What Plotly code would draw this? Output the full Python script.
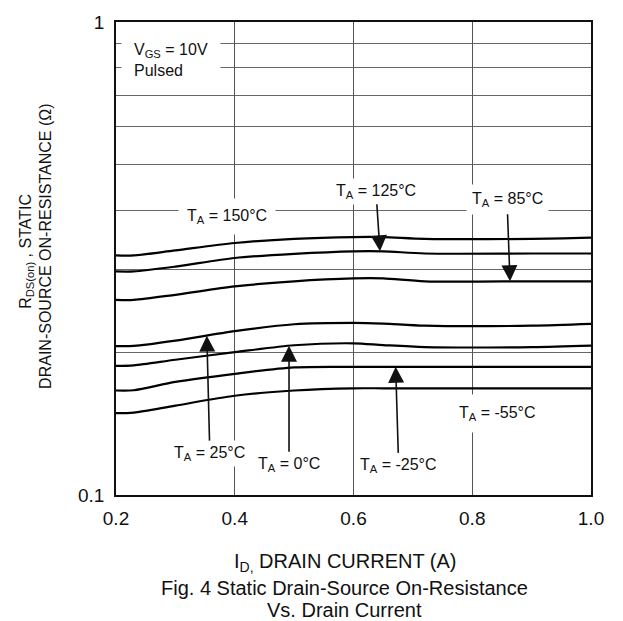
import numpy as np
import plotly.graph_objects as go

# ---- data ----
current = [0.2, 0.23, 0.3, 0.4, 0.5, 0.6, 0.65, 0.72, 0.9, 1.0]
r_150 = [0.321, 0.321, 0.329, 0.341, 0.348, 0.351, 0.351, 0.348, 0.348, 0.350]
r_125 = [0.297, 0.297, 0.304, 0.317, 0.3235, 0.3275, 0.3275, 0.324, 0.324, 0.324]
r_85 = [0.2585, 0.2585, 0.265, 0.276, 0.283, 0.287, 0.287, 0.283, 0.283, 0.283]
r_25 = [0.2064, 0.2066, 0.212, 0.222, 0.2296, 0.2312, 0.2304, 0.228, 0.228, 0.230]
r_0 = [0.1875, 0.188, 0.1932, 0.2004, 0.2073, 0.2093, 0.2075, 0.2055, 0.2055, 0.207]
r_m25 = [0.1663, 0.1665, 0.1734, 0.1804, 0.1861, 0.1866, 0.1866, 0.1866, 0.1866, 0.1866]
r_m55 = [0.1489, 0.1493, 0.1545, 0.1621, 0.1663, 0.1681, 0.1681, 0.1681, 0.1681, 0.1681]

x_ticks = [0.2, 0.4, 0.6, 0.8, 1.0]
x_ticktext = ["0.2", "0.4", "0.6", "0.8", "1.0"]
y_ticks = [0.1, 1]
y_ticktext = ["0.1", "1"]
y_grid = [0.2, 0.3, 0.4, 0.5, 0.6, 0.7, 0.8, 0.9]

series = {
    "150": r_150, "125": r_125, "85": r_85, "25": r_25,
    "0": r_0, "-25": r_m25, "-55": r_m55,
}

FONT = "Liberation Sans, Arial, sans-serif"

fig = go.Figure()
for name, vals in series.items():
    fig.add_trace(go.Scatter(
        x=current, y=vals, mode="lines", name=name,
        line=dict(color="black", width=2.2, shape="spline", smoothing=0.8),
        hoverinfo="skip", showlegend=False,
    ))

fig.update_layout(
    width=623, height=621,
    margin=dict(l=116, r=32, t=14, b=126),
    paper_bgcolor="white", plot_bgcolor="white",
    font=dict(family=FONT, color="#111111"),
    showlegend=False,
)
fig.update_xaxes(
    range=[0.2, 1.0], tickmode="array", tickvals=x_ticks, ticktext=x_ticktext,
    showgrid=True, gridcolor="#555555", gridwidth=1,
    showline=True, linecolor="#111111", linewidth=1.5, mirror=True,
    ticks="", zeroline=False, tickfont=dict(size=19, family=FONT),
    ticklabelstandoff=5,
)
fig.update_yaxes(
    type="log", range=[-1, 0], tickmode="array", tickvals=y_ticks, ticktext=y_ticktext,
    showgrid=False,
    minor=dict(tickmode="array", tickvals=y_grid, showgrid=True,
               gridcolor="#666666", gridwidth=1, ticks=""),
    showline=True, linecolor="#111111", linewidth=1.5, mirror=True,
    ticks="", zeroline=False, tickfont=dict(size=19, family=FONT),
    ticklabelstandoff=6,
)


def tip_log(name, i):
    return float(np.interp(i, current, np.log10(series[name])))


ann_font = dict(size=16, family=FONT, color="#111111")

# arrowed labels: (text, series, tip current, text offset px, pad)
arrowed = [
    ("T<sub>A</sub> = 125°C", "125", 0.6446, -4, -60, 3),
    ("T<sub>A</sub> = 85°C", "85", 0.8636, -3, -82, 5),
    ("T<sub>A</sub> = 25°C", "25", 0.353, 3, 118, 3),
    ("T<sub>A</sub> = 0°C", "0", 0.4914, 0, 119, 3),
    ("T<sub>A</sub> = -25°C", "-25", 0.671, 3, 99, 3),
]
for text, name, xi, ax, ay, pad in arrowed:
    fig.add_annotation(
        x=xi, y=tip_log(name, xi), xref="x", yref="y",
        text=text, showarrow=True, ax=ax, ay=ay,
        arrowhead=2, arrowsize=2.0, arrowwidth=1.6, arrowcolor="#111111",
        bgcolor="white", borderpad=pad, font=ann_font,
    )

# plain labels
fig.add_annotation(x=0.387, y=-0.411, xref="x", yref="y",
                   text="T<sub>A</sub> = 150°C", showarrow=False,
                   bgcolor="white", borderpad=8, font=ann_font)
fig.add_annotation(x=0.843, y=-0.8268, xref="x", yref="y",
                   text="T<sub>A</sub> = -55°C", showarrow=False,
                   bgcolor="white", borderpad=9, font=ann_font)
fig.add_annotation(x=0.2084, y=-0.0805, xref="x", yref="y",
                   xanchor="left", yanchor="middle", align="left",
                   text="V<sub>GS</sub> = 10V<br>Pulsed", showarrow=False,
                   bgcolor="white", borderpad=12, font=ann_font)

# axis titles and caption
title_font = dict(size=20, family=FONT, color="#111111")
fig.add_annotation(x=0.484, y=-0.143, xref="paper", yref="paper",
                   xanchor="center", yanchor="middle",
                   text="I<sub>D,</sub> DRAIN CURRENT (A)", showarrow=False,
                   font=title_font)
fig.add_annotation(x=0.482, y=-0.1965, xref="paper", yref="paper",
                   xanchor="center", yanchor="middle",
                   text="Fig. 4 Static Drain-Source On-Resistance", showarrow=False,
                   font=title_font)
fig.add_annotation(x=0.482, y=-0.244, xref="paper", yref="paper",
                   xanchor="center", yanchor="middle",
                   text="Vs. Drain Current", showarrow=False,
                   font=title_font)
fig.add_annotation(x=-0.190, y=0.5156, xref="paper", yref="paper",
                   xanchor="center", yanchor="middle",
                   text="R<sub>DS(on)</sub> , STATIC", showarrow=False, textangle=-90,
                   font=dict(size=16, family=FONT, color="#111111"))
fig.add_annotation(x=-0.149, y=0.525, xref="paper", yref="paper",
                   xanchor="center", yanchor="middle",
                   text="DRAIN-SOURCE ON-RESISTANCE (Ω)", showarrow=False, textangle=-90,
                   font=dict(size=16, family=FONT, color="#111111"))

fig.write_html("out.html")
